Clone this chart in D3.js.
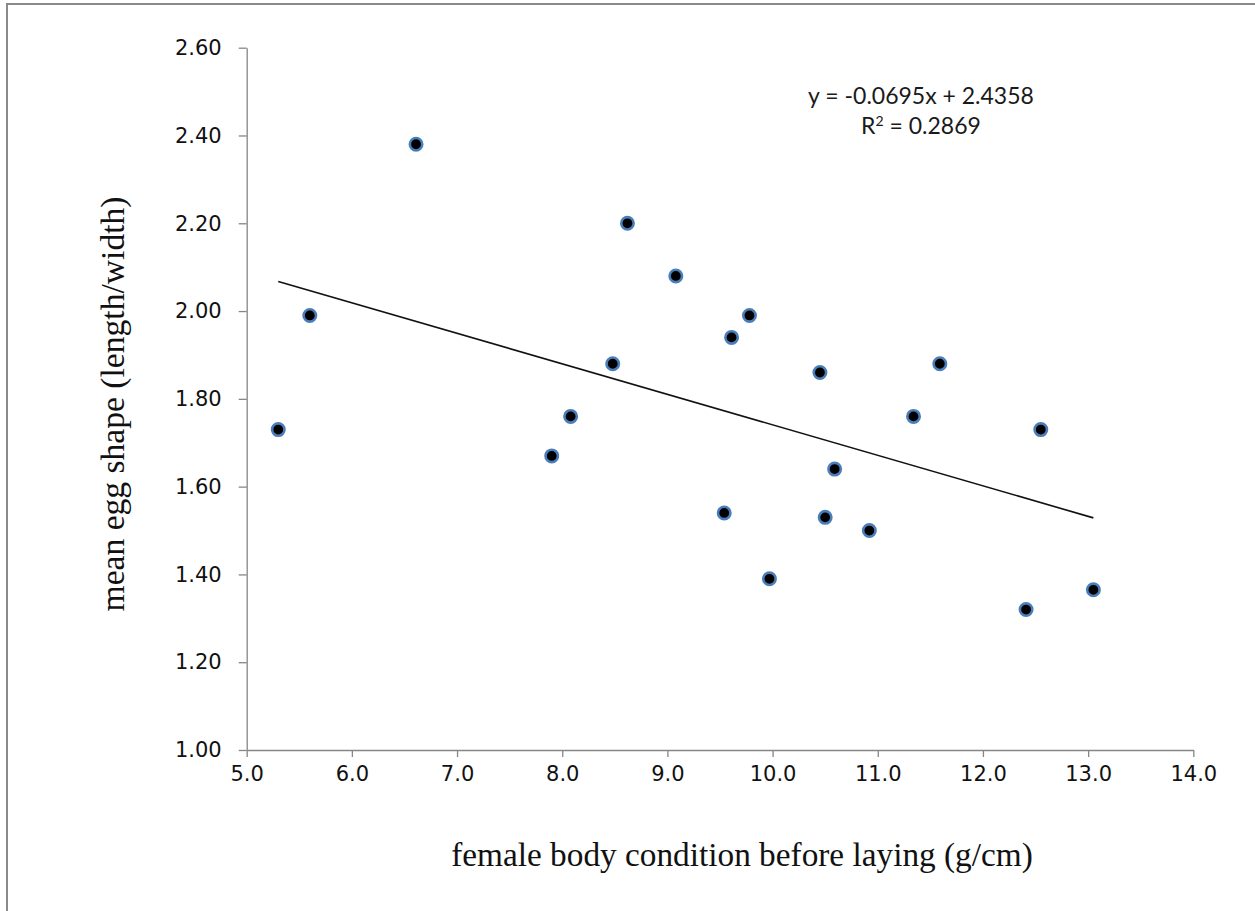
<!DOCTYPE html>
<html>
<head>
<meta charset="utf-8">
<script src="https://cdn.jsdelivr.net/npm/d3@7"></script>
<style>
  html, body { margin: 0; padding: 0; background: #fff; }
  svg { display: block; }
</style>
</head>
<body>
<svg id="chart" width="1255" height="911"></svg>
<script>
// Female body condition (g/cm) before laying vs. mean egg shape (length/width)
const bodyCondition = [5.30, 5.60, 6.61, 7.90, 8.08, 8.48, 8.62, 9.08, 9.54, 9.61, 9.78,
                       9.97, 10.45, 10.50, 10.59, 10.92, 11.34, 11.59, 12.41, 12.55, 13.05];
const eggShape      = [1.73, 1.99, 2.38, 1.67, 1.76, 1.88, 2.20, 2.08, 1.54, 1.94, 1.99,
                       1.39, 1.86, 1.53, 1.64, 1.50, 1.76, 1.88, 1.32, 1.73, 1.365];

// Linear trend line
const slope = -0.0695;
const intercept = 2.4358;
const rSquared = 0.2869;

const xTicks = [5, 6, 7, 8, 9, 10, 11, 12, 13, 14];
const yTicks = [1.0, 1.2, 1.4, 1.6, 1.8, 2.0, 2.2, 2.4, 2.6];

const xTitle = "female body condition before laying (g/cm)";
const yTitle = "mean egg shape (length/width)";

const svg = d3.select("#chart");

// outer frame
svg.append("rect")
  .attr("x", 7).attr("y", 4)
  .attr("width", 1300).attr("height", 1000)
  .attr("fill", "none")
  .attr("stroke", "#8a8a8a")
  .attr("stroke-width", 2);

const plot = { left: 246.7, right: 1193.3, top: 47.7, bottom: 750 };

const x = d3.scaleLinear().domain([5, 14]).range([plot.left, plot.right]);
const y = d3.scaleLinear().domain([1.0, 2.6]).range([plot.bottom, plot.top]);

const axisColor = "#868686";
const tickFont = "'DejaVu Sans', sans-serif";

// x axis
const gx = svg.append("g")
  .attr("transform", `translate(0,${plot.bottom})`)
  .call(d3.axisBottom(x).tickValues(xTicks).tickFormat(d3.format(".1f")).tickSize(7).tickSizeOuter(0).tickPadding(9));
gx.select(".domain").attr("stroke", axisColor).attr("stroke-width", 1.3);
gx.selectAll(".tick line").attr("stroke", axisColor).attr("stroke-width", 1.3);
gx.selectAll(".tick text")
  .attr("fill", "#111")
  .style("font-family", tickFont)
  .style("font-size", "21px");

// y axis
const gy = svg.append("g")
  .attr("transform", `translate(${plot.left},0)`)
  .call(d3.axisLeft(y).tickValues(yTicks).tickFormat(d3.format(".2f")).tickSize(8).tickSizeOuter(0).tickPadding(17));
gy.select(".domain").attr("stroke", axisColor).attr("stroke-width", 1.3);
gy.selectAll(".tick line").attr("stroke", axisColor).attr("stroke-width", 1.3);
gy.selectAll(".tick text")
  .attr("fill", "#111")
  .style("font-family", tickFont)
  .style("font-size", "21px");

// trend line across the observed range
const xMin = d3.min(bodyCondition), xMax = d3.max(bodyCondition);
svg.append("line")
  .attr("x1", x(xMin)).attr("y1", y(slope * xMin + intercept))
  .attr("x2", x(xMax)).attr("y2", y(slope * xMax + intercept))
  .attr("stroke", "#111")
  .attr("stroke-width", 1.6);

// points
const pts = bodyCondition.map((v, i) => ({ bx: v, ey: eggShape[i] }));
svg.append("g").selectAll("circle")
  .data(pts)
  .join("circle")
  .attr("cx", d => x(d.bx))
  .attr("cy", d => y(d.ey))
  .attr("r", 6.2)
  .attr("fill", "#000")
  .attr("stroke", "#4a7ebb")
  .attr("stroke-width", 2.6);

// regression label
const eq = svg.append("text")
  .attr("x", 921)
  .attr("text-anchor", "middle")
  .attr("fill", "#1a1a1a")
  .style("font-family", "Lato, sans-serif")
  .style("font-size", "23px");
eq.append("tspan").attr("x", 921).attr("y", 104)
  .text(`y = ${slope.toFixed(4)}x + ${intercept.toFixed(4)}`);
const r2 = eq.append("tspan").attr("x", 921).attr("y", 134);
r2.append("tspan").text("R");
r2.append("tspan").attr("dy", -8).style("font-size", "14px").text("2");
r2.append("tspan").attr("dy", 8).text(` = ${rSquared.toFixed(4)}`);

// axis titles
svg.append("text")
  .attr("x", 742)
  .attr("y", 866)
  .attr("text-anchor", "middle")
  .attr("fill", "#111")
  .style("font-family", "'Liberation Serif', 'Times New Roman', serif")
  .style("font-size", "33.3px")
  .text(xTitle);

svg.append("text")
  .attr("transform", "translate(124,404) rotate(-90)")
  .attr("text-anchor", "middle")
  .attr("fill", "#111")
  .style("font-family", "'Liberation Serif', 'Times New Roman', serif")
  .style("font-size", "33.6px")
  .text(yTitle);
</script>
</body>
</html>
